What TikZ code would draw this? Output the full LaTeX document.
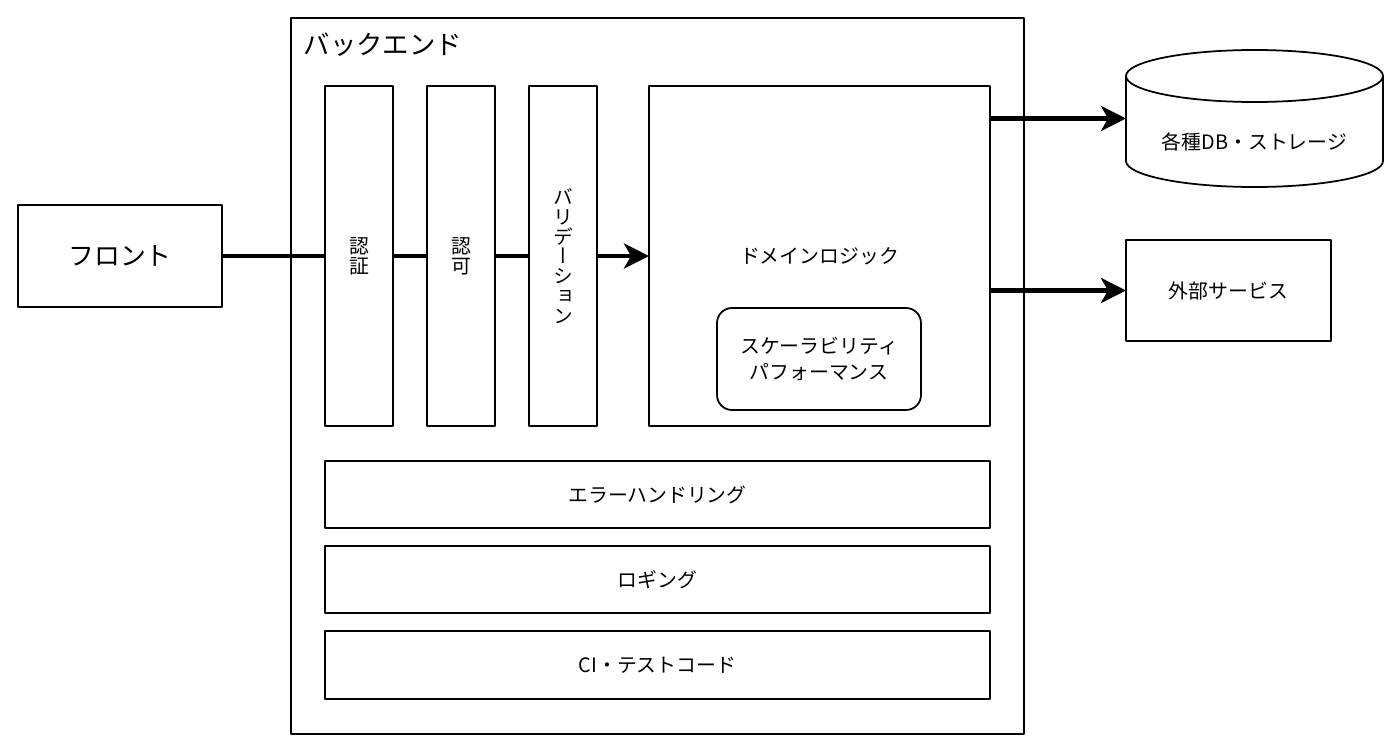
\documentclass[tikz,border=0pt]{standalone}
\usepackage{fontspec}
\setmainfont{Noto Sans CJK JP}
\newfontfamily\vertjp{Noto Sans CJK JP}[RawFeature=+vert]
\usetikzlibrary{arrows.meta}

\begin{document}
\begin{tikzpicture}[line cap=round, line join=round, line width=1pt,
	font=\fontsize{11.3}{11.3}\selectfont,
	box/.style={draw, fill=white, inner sep=0pt, outer sep=0pt, align=center},
	stage/.style={box, minimum width=1.36cm, minimum height=6.8cm},
	bar/.style={box, minimum width=13.3cm, minimum height=1.35cm},
	flow/.style={line width=2.8pt, line cap=butt, -{Stealth[length=0.5cm, width=0.5cm, inset=0.14cm]}}]
				\useasboundingbox (0,0) rectangle (28,-15.04);
				\node[box, minimum width=4.08cm, minimum height=2.04cm, font=\fontsize{14.7}{14.7}\selectfont] (front) at (2.4,-5.12) {フロント};
				\node[box, minimum width=14.66cm, minimum height=14.32cm] (back) at (13.15,-7.52) {};
				\node[anchor=west, inner sep=0pt, font=\fontsize{15}{15}\selectfont] (backtitle) at (6.06,-0.9) {バックエンド};
				\node[box, minimum width=6.82cm, minimum height=6.8cm] (dom) at (16.39,-5.12) {ドメインロジック};
				\draw[flow] (front.east) -- (dom.west);
				\node[stage] (authn) at (7.18,-5.12) {認\\証};
				\node[stage] (authz) at (9.22,-5.12) {認\\可};
				\node[stage, font=\vertjp\fontsize{11.3}{11.3}\selectfont] (valid) at (11.26,-5.12) {バ\\リ\\デ\\ー\\シ\\ョ\\ン};
				\node[box, rounded corners=0.3cm, minimum width=4.08cm, minimum height=2.04cm, font=\fontsize{11.3}{14.7}\selectfont] (perf) at (16.38,-7.18) {スケーラビリティ\\パフォーマンス};
				% cross-cutting layers
				\node[bar] (err) at (13.15,-9.89) {エラーハンドリング};
				\node[bar] (log) at (13.15,-11.59) {ロギング};
				\node[bar] (ci) at (13.15,-13.3) {CI・テストコード};
				% storage and outside
				\node[inner sep=0pt, outer sep=0pt, minimum width=5.14cm, minimum height=2.74cm] (db) at (25.09,-2.37) {};
				\draw[fill=white] ([yshift=-0.52cm]db.north west) -- ([yshift=0.52cm]db.south west)
				arc[start angle=180, end angle=360, x radius=2.57cm, y radius=0.52cm]
				-- ([yshift=-0.52cm]db.north east)
				arc[start angle=0, end angle=180, x radius=2.57cm, y radius=0.52cm] -- cycle;
				\draw ([yshift=-0.52cm]db.north west) arc[start angle=180, end angle=360, x radius=2.57cm, y radius=0.52cm];
				\node (dbtext) at ([yshift=-0.47cm]db.center) {各種DB・ストレージ};
				\node[box, minimum width=4.1cm, minimum height=2.02cm] (ext) at (24.57,-5.81) {外部サービス};
				\draw[flow] (dom.east |- db.west) -- (db.west);
				\draw[flow] (dom.east |- ext.west) -- (ext.west);
\end{tikzpicture}
\end{document}
